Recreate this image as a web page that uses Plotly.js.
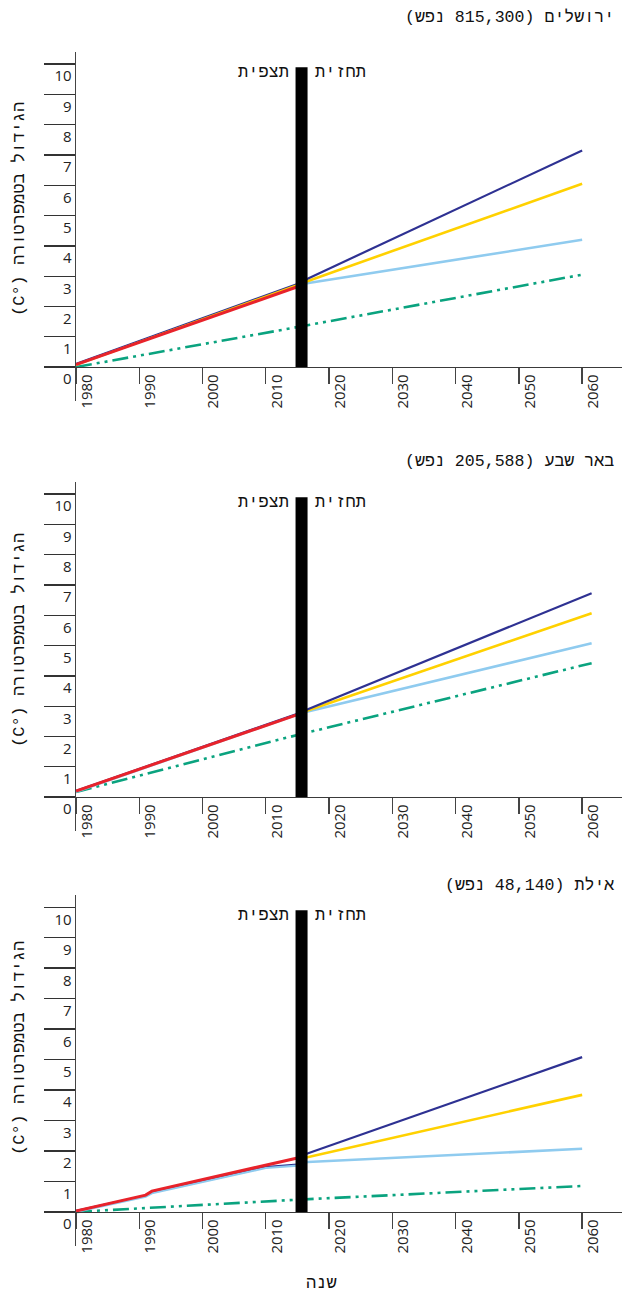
<!DOCTYPE html>
<html><head><meta charset="utf-8">
<script src="https://cdn.plot.ly/plotly-3.0.1.min.js"></script>
<style>html,body{margin:0;padding:0;background:#fff}</style>
</head><body><div id="chart" style="width:623px;height:1296px"></div>
<script>
// ---------- data ----------
const cityTitles = ['ירושלים (815,300 נפש)', 'באר שבע (205,588 נפש)', 'אילת (48,140 נפש)'];
const yAxisTitle = 'הגידול בטמפרטורה (°C)';
const xAxisTitle = 'שנה';
const obsLabel = 'תצפית';
const projLabel = 'תחזית';
const xTickYears = [1980, 1990, 2000, 2010, 2020, 2030, 2040, 2050, 2060];
const xTickText = ['1980', '1990', '2000', '2010', '2020', '2030', '2040', '2050', '2060'];
const yTickVals = [0, 1, 2, 3, 4, 5, 6, 7, 8, 9, 10];
const yTickText = ['0', '1', '2', '3', '4', '5', '6', '7', '8', '9', '10'];

// Jerusalem
const jerObsX = [1980, 2015];
const jerObsY = [0.08, 2.65];
const jerHistX = [1980, 2015];
const jerHistY = [0.1, 2.74];
const jerProjX = [2015, 2060];
const jerHigh = [2.76, 7.15];
const jerMid = [2.72, 6.05];
const jerLow = [2.72, 4.2];
const jerGreenX = [1980, 2015, 2060];
const jerGreenY = [0.0, 1.32, 3.05];

// Beersheba
const bsObsX = [1980, 2015];
const bsObsY = [0.2, 2.72];
const bsHistX = [1980, 2015];
const bsHistY = [0.2, 2.75];
const bsProjX = [2015, 2061.5];
const bsHigh = [2.76, 6.73];
const bsMid = [2.74, 6.07];
const bsLow = [2.74, 5.08];
const bsGreenX = [1980, 2015, 2061.5];
const bsGreenY = [0.17, 2.05, 4.42];

// Eilat
const eilObsX = [1980, 1991, 1992, 2015];
const eilObsY = [0.03, 0.55, 0.68, 1.77];
const eilHistX = [1980, 1991, 1992, 2010, 2015];
const eilHistY = [0.03, 0.53, 0.64, 1.47, 1.55];
const eilProjX = [2015, 2060];
const eilHigh = [1.8, 5.08];
const eilMid = [1.72, 3.84];
const eilLow = [1.62, 2.07];
const eilGreenX = [1980, 2015, 2060];
const eilGreenY = [0.0, 0.4, 0.85];

// ---------- styles ----------
const C_NAVY = '#2e3192', C_YEL = '#ffd100', C_LB = '#8fcbef', C_RED = '#e8232b', C_GRN = '#0aa37f';
const W = 623, H = 1296;
const HEB = 'Liberation Mono, DejaVu Sans Mono, monospace';
const NUM = 'Open Sans, DejaVu Sans, sans-serif';
const rtl = s => '\u202B' + s + '\u202C';

const cities = [
  {obsX: jerObsX, obsY: jerObsY, histX: jerHistX, histY: jerHistY, projX: jerProjX, high: jerHigh, mid: jerMid, low: jerLow, gX: jerGreenX, gY: jerGreenY,
   top: 52, bottom: 401, zero: 367, titleY: 17, yTitleY: 209, histCol: C_YEL},
  {obsX: bsObsX, obsY: bsObsY, histX: bsHistX, histY: bsHistY, projX: bsProjX, high: bsHigh, mid: bsMid, low: bsLow, gX: bsGreenX, gY: bsGreenY,
   top: 482, bottom: 831, zero: 797, titleY: 462, yTitleY: 640, histCol: C_LB},
  {obsX: eilObsX, obsY: eilObsY, histX: eilHistX, histY: eilHistY, projX: eilProjX, high: eilHigh, mid: eilMid, low: eilLow, gX: eilGreenX, gY: eilGreenY,
   top: 895, bottom: 1246, zero: 1212, titleY: 885, yTitleY: 1048, histCol: C_LB}
];

const traces = [];
const layout = {
  width: W, height: H, margin: {l: 0, r: 0, t: 0, b: 0},
  paper_bgcolor: '#fff', plot_bgcolor: '#fff', showlegend: false,
  annotations: [], shapes: []
};

cities.forEach((c, i) => {
  const n = i === 0 ? '' : String(i + 1);
  const xa = 'x' + n, ya = 'y' + n;
  const dash = '16px,5px,3px,5px,3px,5px';
  traces.push({x: c.gX, y: c.gY, xaxis: xa, yaxis: ya, mode: 'lines', line: {color: C_GRN, width: 2.6, dash: dash}});
  traces.push({x: c.projX, y: c.low, xaxis: xa, yaxis: ya, mode: 'lines', line: {color: C_LB, width: 2.6}});
  traces.push({x: c.projX, y: c.mid, xaxis: xa, yaxis: ya, mode: 'lines', line: {color: C_YEL, width: 2.6}});
  traces.push({x: c.projX, y: c.high, xaxis: xa, yaxis: ya, mode: 'lines', line: {color: C_NAVY, width: 2.2}});
  traces.push({x: c.histX, y: c.histY, xaxis: xa, yaxis: ya, mode: 'lines', line: {color: C_NAVY, width: 2.2}});
  traces.push({x: c.histX, y: c.histY.map(v => v - 0.03), xaxis: xa, yaxis: ya, mode: 'lines', line: {color: c.histCol, width: 2.2}});
  traces.push({x: c.obsX, y: c.obsY, xaxis: xa, yaxis: ya, mode: 'lines', line: {color: C_RED, width: 3}});

  layout['xaxis' + n] = {
    domain: [76 / W, 622 / W], range: [1980, 2066.3],
    anchor: 'free', position: 1 - c.zero / H,
    showline: true, linecolor: '#3a3a3a', linewidth: 1.3,
    showgrid: false, zeroline: false,
    ticks: '', tickmode: 'array', tickvals: xTickYears.map(v => v + 1.75), ticktext: xTickText,
    tickangle: -90, tickfont: {family: NUM, size: 15, color: '#222'},
    minor: {tickmode: 'array', tickvals: xTickYears, ticks: 'outside', ticklen: 16, tickwidth: 1.3, tickcolor: '#444', showgrid: false}
  };
  layout['yaxis' + n] = {
    domain: [1 - c.bottom / H, 1 - c.top / H], range: [-1.12, 10.4], anchor: xa,
    showline: true, linecolor: '#444', linewidth: 1.3,
    showgrid: false, zeroline: false,
    ticks: '', tickmode: 'array', tickvals: yTickVals.map(v => v - 0.4), ticktext: yTickText,
    tickfont: {family: NUM, size: 15, color: '#222'},
    minor: {tickmode: 'array', tickvals: yTickVals, ticks: 'outside', ticklen: 31, tickwidth: 1.3, tickcolor: '#333', showgrid: false}
  };
  layout.shapes.push({type: 'rect', xref: xa, yref: ya, x0: 2014.7, x1: 2016.6, y0: 0, y1: 9.9,
    fillcolor: '#000', line: {width: 0}, layer: 'above'});
  layout.annotations.push({xref: xa, yref: ya, x: 2014.0, y: 9.72, xanchor: 'right', yanchor: 'middle', showarrow: false,
    text: rtl(obsLabel), font: {family: HEB, size: 17, color: '#111'}});
  layout.annotations.push({xref: xa, yref: ya, x: 2017.4, y: 9.72, xanchor: 'left', yanchor: 'middle', showarrow: false,
    text: rtl(projLabel), font: {family: HEB, size: 17, color: '#111'}});
  layout.annotations.push({xref: 'paper', yref: 'paper', x: 616 / W, y: 1 - c.titleY / H, xanchor: 'right', yanchor: 'middle', showarrow: false,
    text: rtl(cityTitles[i]), font: {family: HEB, size: 16.6, color: '#111'}});
  layout.annotations.push({xref: 'paper', yref: 'paper', x: 19 / W, y: 1 - c.yTitleY / H, xanchor: 'center', yanchor: 'middle', showarrow: false,
    textangle: -90, text: rtl(yAxisTitle), font: {family: HEB, size: 17, color: '#111'}});
});

layout.annotations.push({xref: 'paper', yref: 'paper', x: 321 / W, y: 1 - 1283 / H, xanchor: 'center', yanchor: 'middle', showarrow: false,
  text: rtl(xAxisTitle), font: {family: HEB, size: 17, color: '#111'}});

Plotly.newPlot('chart', traces, layout, {displayModeBar: false, staticPlot: true});
</script>
</body></html>
